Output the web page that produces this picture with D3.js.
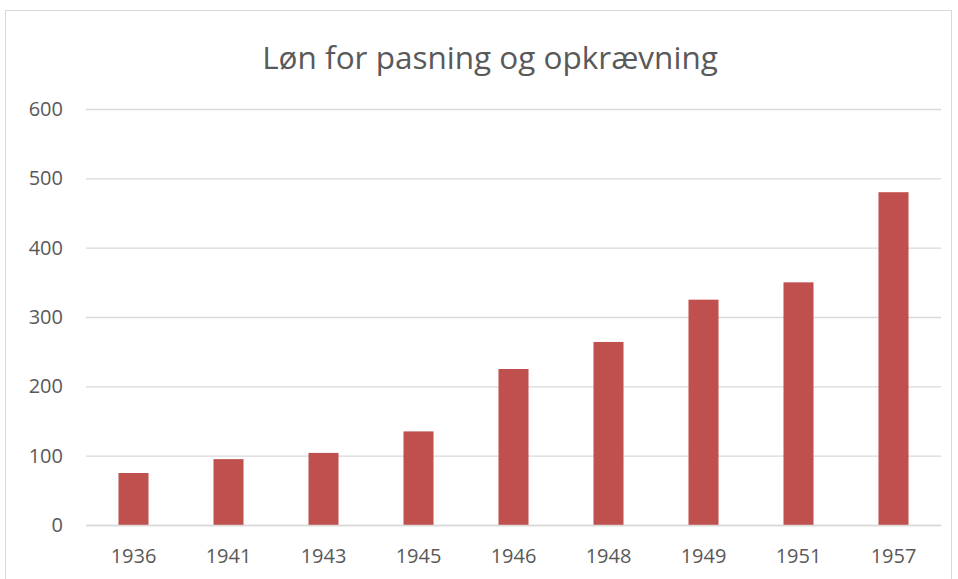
<!DOCTYPE html>
<html><head><meta charset="utf-8">
<script src="https://cdn.jsdelivr.net/npm/d3@7"></script>
<style>body{margin:0;background:#fff}svg{display:block}</style>
</head><body>
<svg id="c" width="958" height="579"></svg>
<script>
const categories = ["1936","1941","1943","1945","1946","1948","1949","1951","1957"];
const values = [75, 95, 104, 135, 225, 264, 325, 350, 480];
const yTicks = [0, 100, 200, 300, 400, 500, 600];
const title = "Løn for pasning og opkrævning";

const svg = d3.select("#c");
const font = "'Open Sans', 'Noto Sans', sans-serif";
svg.append("rect").attr("x", 5.5).attr("y", 10.5).attr("width", 946).attr("height", 580)
  .attr("fill", "#fff").attr("stroke", "#d9d9d9");

const m = {left: 86, right: 941, top: 109, bottom: 525};
const x = d3.scaleBand().domain(categories).range([m.left, m.right]).paddingInner(0.684).paddingOuter(0.342);
const y = d3.scaleLinear().domain([0, 600]).range([m.bottom, m.top]);

svg.append("text").attr("x", 490).attr("y", 69).attr("text-anchor", "middle")
  .attr("font-family", font).attr("font-size", 31.5).attr("fill", "#595959").text(title);

const ya = svg.append("g").attr("transform", `translate(${m.left},0)`)
  .call(d3.axisLeft(y).tickValues(yTicks).tickSize(-(m.right - m.left)).tickPadding(23));
ya.select(".domain").remove();
ya.selectAll("line").attr("stroke", "#d9d9d9").attr("stroke-width", 1.3);
ya.selectAll("text").attr("font-family", font).attr("font-size", 20).attr("fill", "#595959");

svg.append("g").selectAll("rect").data(values).join("rect")
  .attr("x", (d, i) => x(categories[i])).attr("width", x.bandwidth())
  .attr("y", d => y(d)).attr("height", d => y(0) - y(d)).attr("fill", "#c0504d");

const xa = svg.append("g").attr("transform", `translate(0,${m.bottom})`)
  .call(d3.axisBottom(x).tickSize(0).tickPadding(24));
xa.select(".domain").attr("stroke", "#d9d9d9").attr("stroke-width", 1.3);
xa.selectAll("text").attr("font-family", font).attr("font-size", 20).attr("fill", "#595959");
</script>
</body></html>
